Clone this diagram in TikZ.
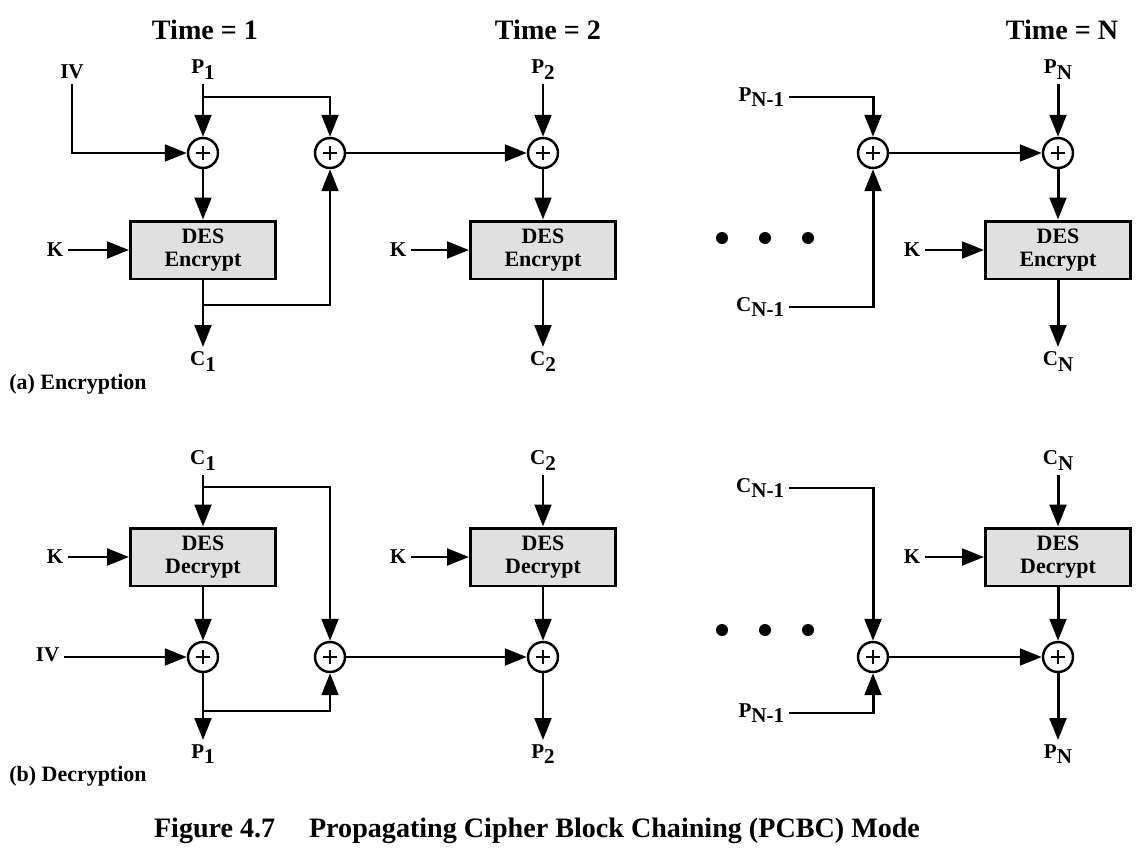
\documentclass[tikz,border=0pt]{standalone}
\usepackage{fontspec}
\setmainfont{Liberation Serif}
\usetikzlibrary{arrows.meta}
\newcommand\lbl[2]{#1\raisebox{-0.55ex}{#2}}
\tikzset{
  wire/.style={line width=1.7pt},
  arr/.style={wire,-{Triangle[length=12.5pt,width=9.5pt]}},
  xor/.style={circle,draw,line width=1.4pt,minimum size=0.6cm,inner sep=0pt,fill=white,
    path picture={\draw[line width=1.2pt] (path picture bounding box.center) +(-3.8pt,0) -- +(3.8pt,0)
      (path picture bounding box.center) +(0,-3.8pt) -- +(0,3.8pt);}},
  desbox/.style={draw,line width=1.7pt,fill=black!12,minimum width=2.9cm,minimum height=1.16cm,
    align=center,inner sep=0pt,font=\bfseries\fontsize{12.5}{13.5}\selectfont},
  lb/.style={inner sep=2.5pt,font=\bfseries\fontsize{12}{14}\selectfont},
  tl/.style={inner sep=0pt,font=\bfseries\fontsize{16}{19}\selectfont},
  sect/.style={inner sep=0pt,anchor=west,font=\bfseries\fontsize{12.5}{15}\selectfont},
  dotn/.style={circle,fill=black,inner sep=0pt,minimum size=0.24cm},
}
\begin{document}
\begin{tikzpicture}[x=0.02cm,y=-0.02cm]
\useasboundingbox (0,0) rectangle (1140,852);
% ---------- titles
\node[tl] (t1) at (205,30) {Time = 1};
\node[tl] (t2) at (548,30) {Time = 2};
\node[tl] (tN) at (1062,30) {Time = N};
% ================= (a) Encryption
\node[lb,anchor=south] (ivA) at (72,84) {IV};
\node[lb,anchor=south] (pa1) at (203,84) {\lbl{P}{1}};
\node[xor] (xa1) at (203,153) {};
\node[xor] (xa2) at (330,153) {};
\node[desbox] (ea1) at (203,250) {DES\\Encrypt};
\node[lb,anchor=east] (ka1) at (68,250) {K};
\node[lb,anchor=north] (ca1) at (203,347) {\lbl{C}{1}};
\coordinate (ba1) at (203,97);
\coordinate (bb1) at (203,305);
\draw[arr] (pa1.south) -- (xa1.north);
\draw[arr] (ivA.south) |- (xa1.west);
\draw[arr] (ba1) -| (xa2.north);
\draw[arr] (xa1.south) -- (ea1.north);
\draw[arr] (ka1.east) -- (ea1.west);
\draw[arr] (ea1.south) -- (ca1.north);
\draw[arr] (bb1) -| (xa2.south);
% time 2
\node[lb,anchor=south] (pa2) at (543,84) {\lbl{P}{2}};
\node[xor] (xa3) at (543,153) {};
\node[desbox] (ea2) at (543,250) {DES\\Encrypt};
\node[lb,anchor=east] (ka2) at (411,250) {K};
\node[lb,anchor=north] (ca2) at (543,347) {\lbl{C}{2}};
\draw[arr] (xa2.east) -- (xa3.west);
\draw[arr] (pa2.south) -- (xa3.north);
\draw[arr] (xa3.south) -- (ea2.north);
\draw[arr] (ka2.east) -- (ea2.west);
\draw[arr] (ea2.south) -- (ca2.north);
% dots
\node[dotn] (da1) at (722,238) {};
\node[dotn] (da2) at (765,238) {};
\node[dotn] (da3) at (808,238) {};
% time N
\node[lb,anchor=east] (pan1) at (789,97) {\lbl{P}{N-1}};
\node[lb,anchor=east] (can1) at (789,307) {\lbl{C}{N-1}};
\node[xor] (xa4) at (873,153) {};
\node[lb,anchor=south] (paN) at (1058,84) {\lbl{P}{N}};
\node[xor] (xa5) at (1058,153) {};
\node[desbox] (ea3) at (1058,250) {DES\\Encrypt};
\node[lb,anchor=east] (ka3) at (925,250) {K};
\node[lb,anchor=north] (caN) at (1058,347) {\lbl{C}{N}};
\draw[arr] (pan1.east) -| (xa4.north);
\draw[arr] (can1.east) -| (xa4.south);
\draw[arr] (xa4.east) -- (xa5.west);
\draw[arr] (paN.south) -- (xa5.north);
\draw[arr] (xa5.south) -- (ea3.north);
\draw[arr] (ka3.east) -- (ea3.west);
\draw[arr] (ea3.south) -- (caN.north);
\node[sect] (secA) at (9,384) {(a) Encryption};
% ================= (b) Decryption
\node[lb,anchor=south] (cb1) at (203,475) {\lbl{C}{1}};
\node[desbox] (db1) at (203,557) {DES\\Decrypt};
\node[lb,anchor=east] (kb1) at (68,557) {K};
\node[xor] (xb1) at (203,657) {};
\node[xor] (xb2) at (330,657) {};
\node[lb,anchor=east] (ivB) at (64,655) {IV};
\node[lb,anchor=north] (pb1) at (203,740) {\lbl{P}{1}};
\coordinate (bc1) at (203,487);
\coordinate (bd1) at (203,711);
\draw[arr] (cb1.south) -- (db1.north);
\draw[arr] (bc1) -| (xb2.north);
\draw[arr] (kb1.east) -- (db1.west);
\draw[arr] (db1.south) -- (xb1.north);
\draw[arr] (ivB.east |- xb1.west) -- (xb1.west);
\draw[arr] (xb1.south) -- (pb1.north);
\draw[arr] (bd1) -| (xb2.south);
% time 2
\node[lb,anchor=south] (cb2) at (543,475) {\lbl{C}{2}};
\node[desbox] (db2) at (543,557) {DES\\Decrypt};
\node[lb,anchor=east] (kb2) at (411,557) {K};
\node[xor] (xb3) at (543,657) {};
\node[lb,anchor=north] (pb2) at (543,740) {\lbl{P}{2}};
\draw[arr] (cb2.south) -- (db2.north);
\draw[arr] (kb2.east) -- (db2.west);
\draw[arr] (db2.south) -- (xb3.north);
\draw[arr] (xb2.east) -- (xb3.west);
\draw[arr] (xb3.south) -- (pb2.north);
% dots
\node[dotn] (db_1) at (722,630) {};
\node[dotn] (db_2) at (765,630) {};
\node[dotn] (db_3) at (808,630) {};
% time N
\node[lb,anchor=east] (cbn1) at (789,488) {\lbl{C}{N-1}};
\node[lb,anchor=east] (pbn1) at (789,713) {\lbl{P}{N-1}};
\node[xor] (xb4) at (873,657) {};
\node[lb,anchor=south] (cbN) at (1058,475) {\lbl{C}{N}};
\node[desbox] (dbN) at (1058,557) {DES\\Decrypt};
\node[lb,anchor=east] (kbN) at (925,557) {K};
\node[xor] (xb5) at (1058,657) {};
\node[lb,anchor=north] (pbN) at (1058,740) {\lbl{P}{N}};
\draw[arr] (cbn1.east) -| (xb4.north);
\draw[arr] (pbn1.east) -| (xb4.south);
\draw[arr] (xb4.east) -- (xb5.west);
\draw[arr] (cbN.south) -- (dbN.north);
\draw[arr] (kbN.east) -- (dbN.west);
\draw[arr] (dbN.south) -- (xb5.north);
\draw[arr] (xb5.south) -- (pbN.north);
\node[sect] (secB) at (9,776) {(b) Decryption};
% caption
\node[tl] (cap) at (537,831) {Figure 4.7\hspace{1.2em}Propagating Cipher Block Chaining (PCBC) Mode};
\end{tikzpicture}
\end{document}
